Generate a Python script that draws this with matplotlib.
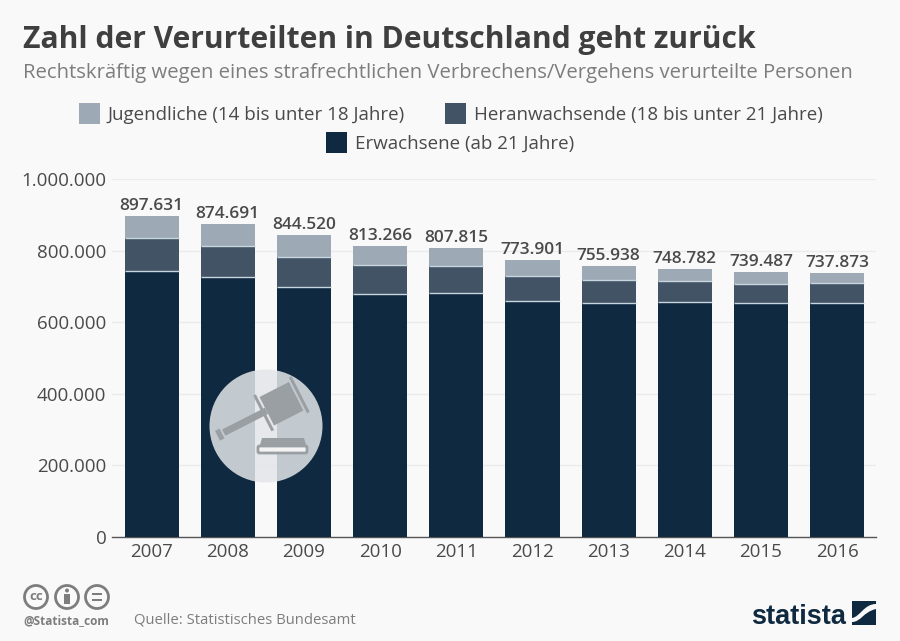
import matplotlib
matplotlib.use("Agg")
import matplotlib.pyplot as plt
from matplotlib.patches import Circle, Rectangle, Polygon, FancyBboxPatch, PathPatch
from matplotlib.path import Path as MPath
from matplotlib.transforms import Affine2D

plt.rcParams["font.family"] = ["Open Sans", "DejaVu Sans"]

years = ["2007", "2008", "2009", "2010", "2011", "2012", "2013", "2014", "2015", "2016"]
totals = [897631, 874691, 844520, 813266, 807815, 773901, 755938, 748782, 739487, 737873]
adults = [743000, 726000, 698000, 679000, 681000, 659000, 654000, 656000, 654000, 654000]
young_adults = [92000, 87000, 84000, 81000, 76000, 70000, 64000, 59000, 53000, 55000]
juveniles = [62631, 61691, 62520, 53266, 50815, 44901, 37938, 33782, 32487, 28873]
y_ticks = [0, 200000, 400000, 600000, 800000, 1000000]
y_labels = ["0", "200.000", "400.000", "600.000", "800.000", "1.000.000"]

BG = "#f9f9f9"
DARK = "#0f2a40"
MID = "#415364"
LIGHT = "#9daab5"
TEXT = "#4a4a4a"
GREY = "#7d7d7d"

W, H = 900, 641
fig = plt.figure(figsize=(W / 100, H / 100), dpi=100, facecolor=BG)

# plot area: x from 112 to 876 px, y=0 at 537 px, 1.000.000 at 179 px
ax = fig.add_axes([112 / W, 1 - 537 / H, (876 - 112) / W, (537 - 179) / H], facecolor="none")
x = list(range(len(years)))
width = 0.71
edge = "#c9d6df"
ax.bar(x, adults, width, color=DARK, zorder=3)
ax.bar(x, young_adults, width, bottom=adults, color=MID, zorder=3)
bottoms = [a + b for a, b in zip(adults, young_adults)]
ax.bar(x, juveniles, width, bottom=bottoms, color=LIGHT, zorder=3)
# thin pale lines between the segments
ax.hlines(adults, [i - width / 2 for i in x], [i + width / 2 for i in x], color=edge, lw=1, zorder=4)
ax.hlines(bottoms, [i - width / 2 for i in x], [i + width / 2 for i in x], color=edge, lw=1, zorder=4)

for i, t in enumerate(totals):
    ax.annotate(f"{t:,}".replace(",", "."), (i, t), xytext=(0, 1.5), textcoords="offset points",
                ha="center", va="bottom", fontsize=12.4, color=TEXT, fontweight="semibold", zorder=5)

ax.set_xlim(-0.52, 9.51)
ax.set_ylim(0, 1000000)
ax.set_xticks(x, years)
ax.set_yticks(y_ticks, y_labels)
ax.tick_params(axis="both", length=0, labelsize=13.5, labelcolor=TEXT)
ax.tick_params(axis="x", pad=4)
ax.tick_params(axis="y", pad=4)
ax.grid(axis="y", color="#ebebeb", lw=1, zorder=0)
ax.set_axisbelow(True)
for s in ["top", "left", "right"]:
    ax.spines[s].set_visible(False)
ax.spines["bottom"].set_color("#555555")
ax.spines["bottom"].set_linewidth(1)

# overlay in pixel coordinates for header, legend, icon and footer
ov = fig.add_axes([0, 0, 1, 1], facecolor="none")
ov.set_xlim(0, W)
ov.set_ylim(H, 0)
ov.axis("off")

ov.text(23, 48, "Zahl der Verurteilten in Deutschland geht zurück", fontsize=21.6, fontweight="bold",
        color="#3f3f3f", va="baseline", ha="left")
ov.text(23, 78, "Rechtskräftig wegen eines strafrechtlichen Verbrechens/Vergehens verurteilte Personen",
        fontsize=14.55, color=GREY, va="baseline", ha="left")

legend = [("Jugendliche (14 bis unter 18 Jahre)", LIGHT, 79, 103),
          ("Heranwachsende (18 bis unter 21 Jahre)", MID, 445, 103),
          ("Erwachsene (ab 21 Jahre)", DARK, 326, 132)]
for label, col, lx, ly in legend:
    ov.add_patch(Rectangle((lx, ly), 21, 21, color=col, lw=0))
    ov.text(lx + 29, ly + 17, label, fontsize=13.5, color=TEXT, va="baseline", ha="left")

# gavel icon
ov.add_patch(Circle((266, 426), 56.5, color="#e3e6e9", alpha=0.85, lw=0))
ICON = "#9a9fa3"
rot = Affine2D().rotate_deg_around(281, 404, -27) + ov.transData
ov.add_patch(Rectangle((217, 400), 48, 7, color=ICON, lw=0, transform=rot))
ov.add_patch(Rectangle((265, 388), 33, 32, color=ICON, lw=0, transform=rot))
ov.add_patch(Rectangle((260, 384), 3, 40, color=ICON, lw=0, transform=rot))
ov.add_patch(Rectangle((300, 384), 3, 40, color=ICON, lw=0, transform=rot))
ov.add_patch(Rectangle((210, 398), 5, 11, color=ICON, lw=0, transform=rot))
ov.add_patch(Polygon([(262, 438), (304, 438), (306, 445), (260, 445)], color=ICON, lw=0))
ov.add_patch(FancyBboxPatch((258, 446), 49, 7, boxstyle="round,pad=0,rounding_size=1.5",
                            fc="#f4f4f4", ec=ICON, lw=2))

# footer
for cx in (36, 67, 97):
    ov.add_patch(Circle((cx, 597), 11.5, fc="none", ec=GREY, lw=2))
ov.text(36, 596.5, "cc", fontsize=9.5, fontweight="bold", color=GREY, ha="center", va="center")
ov.add_patch(Circle((67, 590.5), 2, color=GREY, lw=0))
ov.add_patch(Rectangle((64, 594), 6, 10, color=GREY, lw=0))
ov.add_patch(Rectangle((92, 593), 10, 2.2, color=GREY, lw=0))
ov.add_patch(Rectangle((92, 599), 10, 2.2, color=GREY, lw=0))
ov.text(23, 621, "@Statista_com", fontsize=8.5, fontweight="bold", color=GREY, va="center", ha="left")
ov.text(134, 620, "Quelle: Statistisches Bundesamt", fontsize=10.7, color=GREY, va="center", ha="left")

ov.text(846, 624, "statista", fontsize=19.5, fontweight="bold", color=DARK, va="baseline", ha="right",
        family=["Liberation Sans"])
ov.add_patch(Rectangle((852, 601), 24, 24, color=DARK, lw=0))
swoosh = MPath([(852, 622), (861, 622), (863, 612), (876, 609), (876, 604), (864, 604), (860, 617), (852, 618), (852, 622)],
               [MPath.MOVETO, MPath.CURVE4, MPath.CURVE4, MPath.CURVE4, MPath.LINETO, MPath.CURVE4, MPath.CURVE4, MPath.CURVE4, MPath.CLOSEPOLY])
ov.add_patch(PathPatch(swoosh, fc=BG, lw=0))

fig.savefig("out.png", dpi=100, facecolor=BG)
